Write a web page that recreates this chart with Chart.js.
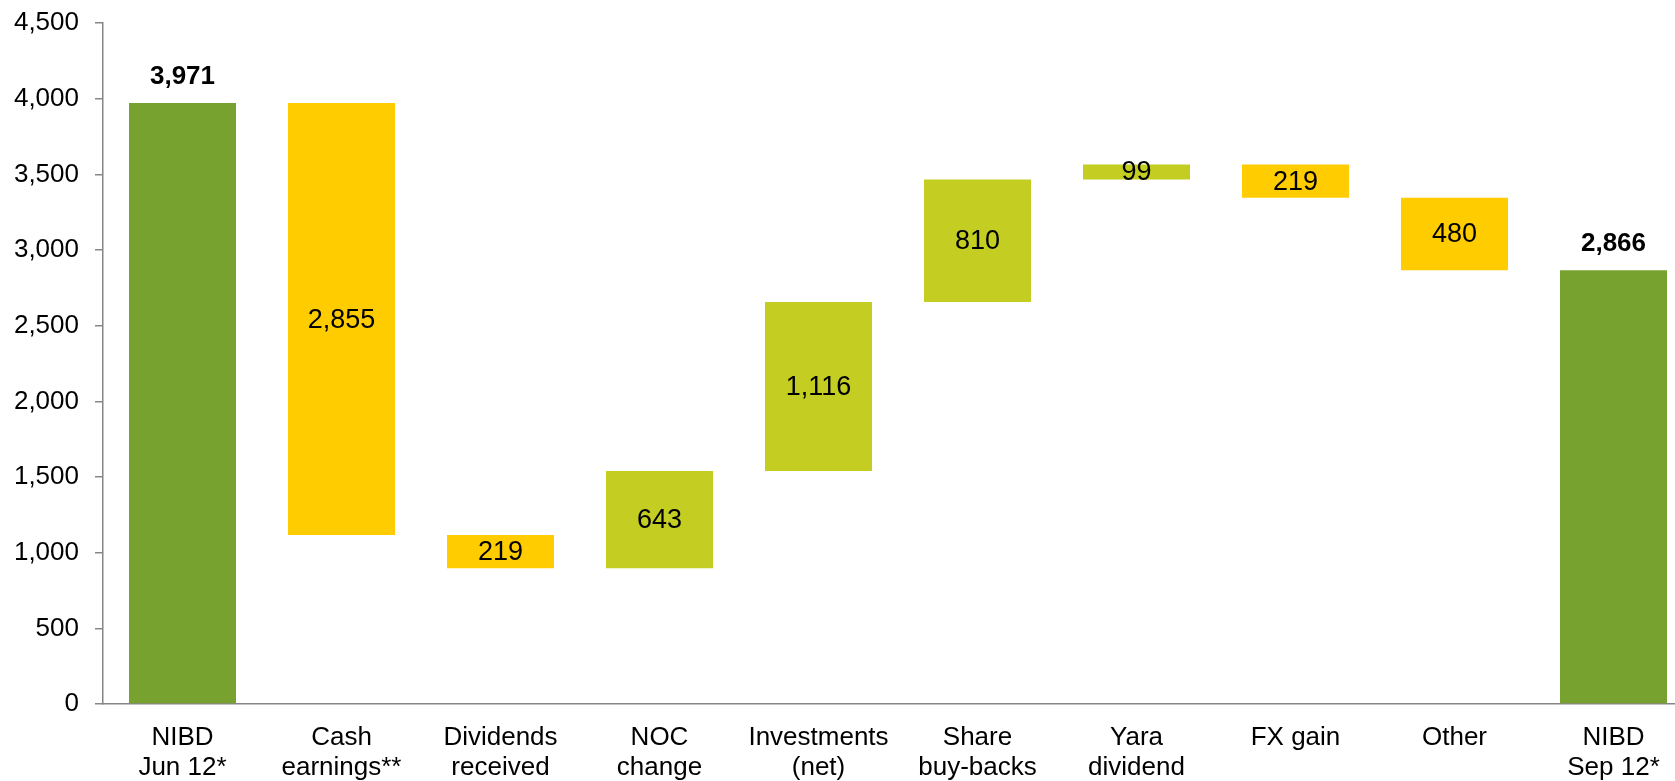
<!DOCTYPE html>
<html>
<head>
<meta charset="utf-8">
<script src="https://cdn.jsdelivr.net/npm/chart.js@4"></script>
<style>
  html, body { margin: 0; padding: 0; background: #ffffff; overflow: hidden; width: 1675px; height: 781px; }
  #wrap { width: 1693px; height: 781px; }
</style>
</head>
<body>
<div id="wrap"><canvas id="c" width="1693" height="781"></canvas></div>
<script>
// ---- Data ----
const categories = [
  ["NIBD", "Jun 12*"],
  ["Cash", "earnings**"],
  ["Dividends", "received"],
  ["NOC", "change"],
  ["Investments", "(net)"],
  ["Share", "buy-backs"],
  ["Yara", "dividend"],
  ["FX gain"],
  ["Other"],
  ["NIBD", "Sep 12*"]
];
// kind: total bars and increase / decrease steps
const kinds = ["total", "down", "down", "up", "up", "up", "up", "down", "down", "total"];
const amounts = [3971, 2855, 219, 643, 1116, 810, 99, 219, 480, 2866];
const yTicks = [0, 500, 1000, 1500, 2000, 2500, 3000, 3500, 4000, 4500];

const colors = { total: "#78A22F", down: "#FFCC00", up: "#C3CD22" };

// build floating bar ranges from the amounts
let running = 0;
const ranges = amounts.map((v, i) => {
  const k = kinds[i];
  if (k === "total") { running = v; return [0, v]; }
  if (k === "down") { const r = [running - v, running]; running -= v; return r; }
  const r = [running, running + v]; running += v; return r;
});

const fmt = v => v.toLocaleString("en-US");
const FONT = "'Liberation Sans', Arial, sans-serif";

const labelPlugin = {
  id: "wfLabels",
  afterDatasetsDraw(chart) {
    const ctx = chart.ctx;
    const meta = chart.getDatasetMeta(0);
    ctx.save();
    ctx.fillStyle = "#000000";
    ctx.textAlign = "center";
    meta.data.forEach((bar, i) => {
      const top = Math.min(bar.y, bar.base);
      const bottom = Math.max(bar.y, bar.base);
      if (kinds[i] === "total") {
        ctx.font = "bold 26px " + FONT;
        ctx.textBaseline = "alphabetic";
        ctx.fillText(fmt(amounts[i]), bar.x, top - 19);
      } else {
        ctx.font = "27px " + FONT;
        ctx.textBaseline = "middle";
        ctx.fillText(fmt(amounts[i]), bar.x, (top + bottom) / 2 + 1);
      }
    });
    ctx.restore();
  }
};

new Chart(document.getElementById("c"), {
  type: "bar",
  data: {
    labels: categories,
    datasets: [{
      data: ranges,
      backgroundColor: kinds.map(k => colors[k]),
      borderWidth: 0,
      barPercentage: 0.673,
      categoryPercentage: 1.0
    }]
  },
  options: {
    responsive: false,
    animation: false,
    devicePixelRatio: 1,
    layout: { padding: { top: 0, left: 0, right: 0, bottom: 0 } },
    plugins: { legend: { display: false }, tooltip: { enabled: false } },
    scales: {
      x: {
        offset: true,
        grid: { display: false, drawTicks: false },
        border: { display: true, color: "#868686", width: 1.5 },
        ticks: {
          color: "#000000",
          font: { family: FONT, size: 26, lineHeight: 1.15 },
          padding: 19,
          maxRotation: 0,
          autoSkip: false
        },
        afterFit(scale) { scale.height = 77; }
      },
      y: {
        min: 0,
        max: 4500,
        afterBuildTicks(scale) { scale.ticks = yTicks.map(v => ({ value: v })); },
        grid: { drawOnChartArea: false, drawTicks: true, tickLength: 8, color: "#868686", lineWidth: 1.5 },
        border: { display: true, color: "#868686", width: 1.5 },
        ticks: {
          color: "#000000",
          font: { family: FONT, size: 26 },
          padding: 16,
          callback: v => fmt(v)
        },
        afterFit(scale) { scale.width = 103; scale.paddingTop = 23; scale.paddingBottom = 0; }
      }
    }
  },
  plugins: [labelPlugin]
});
</script>
</body>
</html>
